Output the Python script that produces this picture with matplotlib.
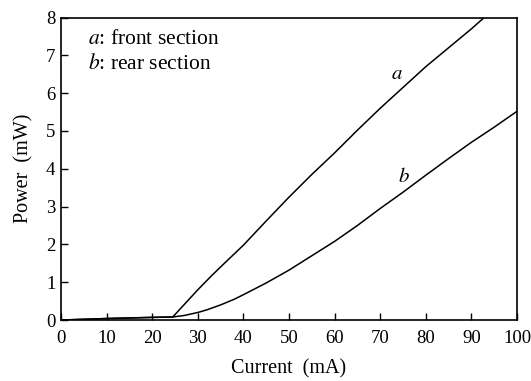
import matplotlib
matplotlib.use('Agg')
import matplotlib.pyplot as plt

# curve a: front section
current_a = [0, 10, 20, 24.5, 30, 33, 36, 40, 45, 50, 55, 60, 65, 70, 75, 80, 85, 90, 92.8]
power_a = [0, 0.04, 0.07, 0.08, 0.8, 1.17, 1.52, 1.98, 2.62, 3.25, 3.85, 4.42, 5.02, 5.6, 6.15, 6.7, 7.2, 7.7, 8.0]

# curve b: rear section
current_b = [0, 10, 20, 24.5, 27, 30, 32, 35, 38, 40, 45, 50, 55, 60, 65, 70, 75, 80, 85, 90, 95, 100]
power_b = [0, 0.04, 0.07, 0.08, 0.12, 0.2, 0.27, 0.4, 0.55, 0.67, 0.98, 1.32, 1.7, 2.08, 2.5, 2.95, 3.38, 3.83, 4.27, 4.7, 5.1, 5.52]

x_ticks = list(range(0, 101, 10))
y_ticks = list(range(0, 9))

plt.rcParams['font.family'] = ['Liberation Serif', 'DejaVu Serif']
plt.rcParams['mathtext.fontset'] = 'stix'


def main():
    fig = plt.figure(figsize=(5.31, 3.81), dpi=100)
    ax = fig.add_axes([0.1149, 0.160, 0.8587, 0.794])

    ax.plot(current_a, power_a, color='black', lw=1.1)
    ax.plot(current_b, power_b, color='black', lw=1.1)

    ax.set_xlim(0, 100)
    ax.set_ylim(0, 8)
    ax.set_xticks(x_ticks)
    ax.set_yticks(y_ticks)
    ax.tick_params(direction='in', length=5, width=1.0, labelsize=13.5, pad=4)
    ax.tick_params(axis='x', pad=7)
    for s in ax.spines.values():
        s.set_linewidth(1.2)

    ax.set_xlabel('Current  (mA)', fontsize=14.5, labelpad=9)
    ax.set_ylabel('Power  (mW)', fontsize=14.5, labelpad=9)

    ax.text(5.9, 7.41, '$a$: front section', fontsize=15.5, va='center', ha='left')
    ax.text(5.9, 6.77, '$b$: rear section', fontsize=15.5, va='center', ha='left')
    ax.text(73.7, 6.5, '$a$', fontsize=15, va='center', ha='center')
    ax.text(75.2, 3.78, '$b$', fontsize=15, va='center', ha='center')

    fig.savefig('out.png', dpi=100)


if __name__ == "__main__":
    main()
